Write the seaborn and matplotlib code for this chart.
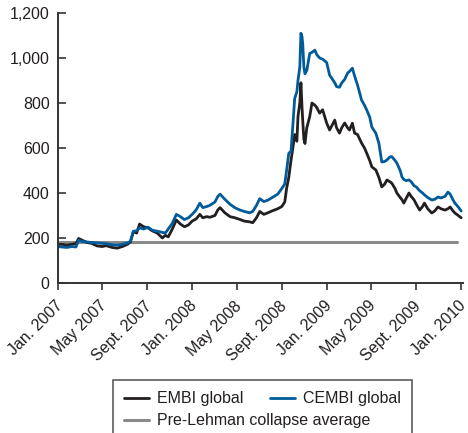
"""
Emerging market bond spreads: EMBI global vs CEMBI global, 2007-2010.
"""

import pandas as pd
import matplotlib.pyplot as plt
import matplotlib.transforms as mtransforms
import seaborn as sns

# Spread series (basis points)
dates = [
    "2007-01-01", "2007-01-12", "2007-01-25", "2007-02-08", "2007-02-19", "2007-02-26",
    "2007-03-08", "2007-03-21", "2007-04-03", "2007-04-17", "2007-05-01", "2007-05-12",
    "2007-05-28", "2007-06-11", "2007-06-25", "2007-07-09", "2007-07-17", "2007-07-25",
    "2007-08-03", "2007-08-11", "2007-08-22", "2007-09-03", "2007-09-14", "2007-09-28",
    "2007-10-12", "2007-10-20", "2007-10-28", "2007-11-08", "2007-11-19", "2007-11-30",
    "2007-12-11", "2007-12-22", "2008-01-01", "2008-01-12", "2008-01-22", "2008-01-30",
    "2008-02-10", "2008-02-18", "2008-03-03", "2008-03-11", "2008-03-17", "2008-03-30",
    "2008-04-13", "2008-04-26", "2008-05-09", "2008-05-22", "2008-06-05", "2008-06-14",
    "2008-06-24", "2008-07-03", "2008-07-14", "2008-07-25", "2008-08-08", "2008-08-21",
    "2008-09-01", "2008-09-09", "2008-09-14", "2008-09-20", "2008-09-26", "2008-10-01",
    "2008-10-06", "2008-10-12", "2008-10-15", "2008-10-20", "2008-10-23", "2008-10-26",
    "2008-10-28", "2008-10-31", "2008-11-03", "2008-11-08", "2008-11-16", "2008-11-22",
    "2008-11-30", "2008-12-05", "2008-12-13", "2008-12-21", "2009-01-01", "2009-01-09",
    "2009-01-17", "2009-01-23", "2009-01-28", "2009-02-05", "2009-02-11", "2009-02-19",
    "2009-02-27", "2009-03-04", "2009-03-12", "2009-03-18", "2009-03-26", "2009-04-06",
    "2009-04-14", "2009-04-20", "2009-04-28", "2009-05-04", "2009-05-15", "2009-05-23",
    "2009-05-31", "2009-06-08", "2009-06-14", "2009-06-22", "2009-06-27", "2009-07-06",
    "2009-07-11", "2009-07-20", "2009-07-25", "2009-07-30", "2009-08-05", "2009-08-13",
    "2009-08-19", "2009-08-27", "2009-09-02", "2009-09-11", "2009-09-19", "2009-09-24",
    "2009-10-03", "2009-10-14", "2009-10-22", "2009-10-31", "2009-11-08", "2009-11-19",
    "2009-11-27", "2009-12-03", "2009-12-11", "2009-12-16", "2009-12-25", "2010-01-02",
]

embi = [
    170, 172, 168, 172, 175, 198,
    190, 180, 176, 165, 162, 166,
    158, 155, 162, 172, 182, 228,
    222, 262, 250, 245, 232, 222,
    200, 212, 205, 240, 280, 262,
    250, 258, 275, 285, 305, 290,
    295, 292, 300, 325, 335, 312,
    295, 290, 283, 275, 272, 268,
    290, 318, 305, 312, 322, 330,
    340, 360, 420, 470, 545, 600,
    660, 630, 740, 800, 890, 780,
    720, 640, 620, 690, 740, 800,
    790, 780, 755, 770, 711, 680,
    705, 724, 690, 666, 690, 711,
    690, 680, 710, 666, 660, 622,
    600, 577, 545, 516, 502, 470,
    427, 440, 458, 450, 444, 420,
    400, 380, 370, 355, 375, 400,
    385, 369, 350, 324, 340, 355,
    330, 311, 320, 338, 330, 324,
    330, 338, 320, 311, 300, 290,
]

cembi = [
    162, 160, 158, 162, 160, 190,
    185, 182, 180, 178, 176, 175,
    170, 168, 172, 178, 185, 230,
    232, 245, 240, 248, 235, 230,
    225, 222, 240, 265, 305, 295,
    282, 290, 305, 325, 355, 335,
    340, 345, 360, 385, 395, 372,
    350, 335, 325, 318, 312, 318,
    345, 375, 362, 368, 382, 395,
    420, 440, 500, 577, 585, 700,
    820, 850, 900, 960, 1110, 1095,
    1060, 960, 930, 945, 1020, 1025,
    1035, 1015, 1000, 995, 980, 924,
    905, 890, 873, 870, 889, 905,
    933, 940, 955, 920, 880, 813,
    790, 769, 738, 693, 665, 622,
    538, 540, 547, 560, 562, 545,
    533, 500, 471, 460, 455, 458,
    450, 432, 427, 410, 400, 392,
    380, 369, 372, 382, 378, 385,
    404, 395, 369, 355, 338, 320,
]

# Pre-Lehman collapse average (flat reference level)
avg_dates = ["2007-01-01", "2009-12-22"]
avg_level = [182, 182]

tick_dates = ["2007-01-01", "2007-05-01", "2007-09-01", "2008-01-01", "2008-05-01",
              "2008-09-01", "2009-01-01", "2009-05-01", "2009-09-01", "2010-01-01"]
tick_labels = ["Jan. 2007", "May 2007", "Sept. 2007", "Jan. 2008", "May 2008",
               "Sept. 2008", "Jan. 2009", "May 2009", "Sept. 2009", "Jan. 2010"]
y_ticks = [0, 200, 400, 600, 800, 1000, 1200]

TEXT = "#231f20"
BLACK = "#231f20"
BLUE = "#005b9a"
GRAY = "#8a8a8a"

sns.set_style("ticks")
plt.rcParams['font.family'] = ['Liberation Sans', 'DejaVu Sans']
plt.rcParams['text.color'] = TEXT

df = pd.DataFrame({"date": pd.to_datetime(dates), "EMBI global": embi, "CEMBI global": cembi})
avg_df = pd.DataFrame({"date": pd.to_datetime(avg_dates), "level": avg_level})

fig = plt.figure(figsize=(4.68, 4.33), dpi=100)
ax = fig.add_axes([58 / 468, 1 - 283 / 433, 405 / 468, 270 / 433])

sns.lineplot(data=avg_df, x="date", y="level", ax=ax, color=GRAY, linewidth=2.2,
             label="Pre-Lehman collapse average")
sns.lineplot(data=df, x="date", y="EMBI global", ax=ax, color=BLACK, linewidth=2.0,
             label="EMBI global", estimator=None)
sns.lineplot(data=df, x="date", y="CEMBI global", ax=ax, color=BLUE, linewidth=2.0,
             label="CEMBI global", estimator=None)

ax.set_xlim(pd.Timestamp("2007-01-01"), pd.Timestamp("2010-01-07"))
ax.set_ylim(0, 1200)
ax.set_xlabel("")
ax.set_ylabel("")

ax.set_xticks(pd.to_datetime(tick_dates))
ax.set_xticklabels(tick_labels, rotation=45, ha="right", va="top", rotation_mode="anchor")
ax.set_yticks(y_ticks)
ax.set_yticklabels([f"{v:,}" for v in y_ticks])

ax.tick_params(axis="x", direction="out", length=5, width=1.2, color="#333333",
               labelsize=11.5, labelcolor=TEXT, pad=3)
ax.tick_params(axis="y", direction="in", length=6, width=1.2, color="#333333",
               labelsize=11.5, labelcolor=TEXT, pad=6)

# nudge the rotated date labels slightly down-left so the last one stays inside
shift = mtransforms.ScaledTranslation(-2 / 72, -3 / 72, fig.dpi_scale_trans)
for lbl in ax.get_xticklabels():
    lbl.set_transform(lbl.get_transform() + shift)

sns.despine(ax=ax)
for side in ["left", "bottom"]:
    ax.spines[side].set_color("#333333")
    ax.spines[side].set_linewidth(1.4)

# Legend: EMBI and CEMBI on the first row, average on the second
handles, labels = ax.get_legend_handles_labels()
order = [labels.index("EMBI global"), labels.index("Pre-Lehman collapse average"),
         labels.index("CEMBI global")]
leg = ax.legend([handles[i] for i in order], [labels[i] for i in order],
                ncol=2, loc="upper left", bbox_to_anchor=(113 / 468, 1 - 380 / 433),
                bbox_transform=fig.transFigure, borderaxespad=0, fontsize=11.5,
                handlelength=1.56, handletextpad=0.5, columnspacing=-6.3,
                labelspacing=0.45, borderpad=0.7, fancybox=False, frameon=True)
leg.get_frame().set_edgecolor("#333333")
leg.get_frame().set_linewidth(1.2)

plt.savefig("out.png", dpi=100)
plt.close()
